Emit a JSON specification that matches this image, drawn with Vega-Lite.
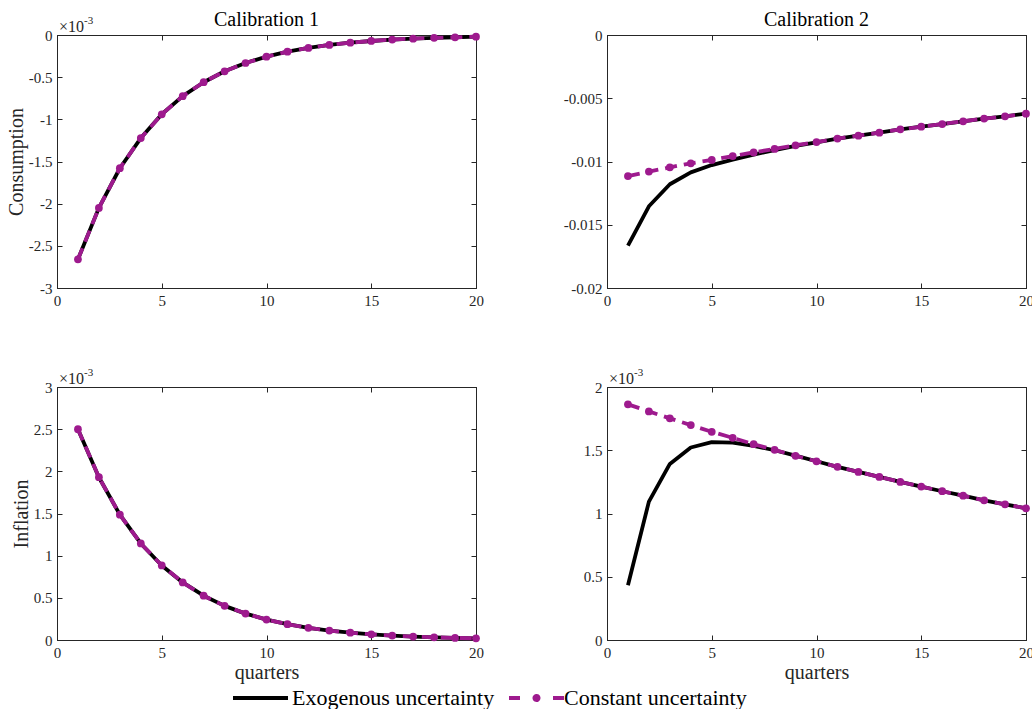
{
  "$schema": "https://vega.github.io/schema/vega-lite/v6.json",
  "background": "white",
  "padding": {"left": 5, "top": 9, "right": 0, "bottom": 0},
  "datasets": {
    "cons1": [
      {"q":1,"series":"Exogenous uncertainty","v":-0.00266},{"q":2,"series":"Exogenous uncertainty","v":-0.00205},{"q":3,"series":"Exogenous uncertainty","v":-0.00158},{"q":4,"series":"Exogenous uncertainty","v":-0.001222},{"q":5,"series":"Exogenous uncertainty","v":-0.00094},{"q":6,"series":"Exogenous uncertainty","v":-0.000725},{"q":7,"series":"Exogenous uncertainty","v":-0.00056},{"q":8,"series":"Exogenous uncertainty","v":-0.00043},{"q":9,"series":"Exogenous uncertainty","v":-0.000332},{"q":10,"series":"Exogenous uncertainty","v":-0.000257},{"q":11,"series":"Exogenous uncertainty","v":-0.000198},{"q":12,"series":"Exogenous uncertainty","v":-0.000153},{"q":13,"series":"Exogenous uncertainty","v":-0.000118},{"q":14,"series":"Exogenous uncertainty","v":-0.000091},{"q":15,"series":"Exogenous uncertainty","v":-0.000071},{"q":16,"series":"Exogenous uncertainty","v":-0.000054},{"q":17,"series":"Exogenous uncertainty","v":-0.000043},{"q":18,"series":"Exogenous uncertainty","v":-0.000034},{"q":19,"series":"Exogenous uncertainty","v":-0.000027},{"q":20,"series":"Exogenous uncertainty","v":-0.00002},
      {"q":1,"series":"Constant uncertainty","v":-0.00266},{"q":2,"series":"Constant uncertainty","v":-0.00205},{"q":3,"series":"Constant uncertainty","v":-0.00158},{"q":4,"series":"Constant uncertainty","v":-0.001222},{"q":5,"series":"Constant uncertainty","v":-0.00094},{"q":6,"series":"Constant uncertainty","v":-0.000725},{"q":7,"series":"Constant uncertainty","v":-0.00056},{"q":8,"series":"Constant uncertainty","v":-0.00043},{"q":9,"series":"Constant uncertainty","v":-0.000332},{"q":10,"series":"Constant uncertainty","v":-0.000257},{"q":11,"series":"Constant uncertainty","v":-0.000198},{"q":12,"series":"Constant uncertainty","v":-0.000153},{"q":13,"series":"Constant uncertainty","v":-0.000118},{"q":14,"series":"Constant uncertainty","v":-0.000091},{"q":15,"series":"Constant uncertainty","v":-0.000071},{"q":16,"series":"Constant uncertainty","v":-0.000054},{"q":17,"series":"Constant uncertainty","v":-0.000043},{"q":18,"series":"Constant uncertainty","v":-0.000034},{"q":19,"series":"Constant uncertainty","v":-0.000027},{"q":20,"series":"Constant uncertainty","v":-0.00002}
    ],
    "cons2": [
      {"q":1,"series":"Exogenous uncertainty","v":-0.01665},{"q":2,"series":"Exogenous uncertainty","v":-0.01354},{"q":3,"series":"Exogenous uncertainty","v":-0.0118},{"q":4,"series":"Exogenous uncertainty","v":-0.01086},{"q":5,"series":"Exogenous uncertainty","v":-0.01028},{"q":6,"series":"Exogenous uncertainty","v":-0.00985},{"q":7,"series":"Exogenous uncertainty","v":-0.00945},{"q":8,"series":"Exogenous uncertainty","v":-0.0091},{"q":9,"series":"Exogenous uncertainty","v":-0.00876},{"q":10,"series":"Exogenous uncertainty","v":-0.00848},{"q":11,"series":"Exogenous uncertainty","v":-0.0082},{"q":12,"series":"Exogenous uncertainty","v":-0.00796},{"q":13,"series":"Exogenous uncertainty","v":-0.00772},{"q":14,"series":"Exogenous uncertainty","v":-0.00746},{"q":15,"series":"Exogenous uncertainty","v":-0.00725},{"q":16,"series":"Exogenous uncertainty","v":-0.00704},{"q":17,"series":"Exogenous uncertainty","v":-0.00682},{"q":18,"series":"Exogenous uncertainty","v":-0.00661},{"q":19,"series":"Exogenous uncertainty","v":-0.00643},{"q":20,"series":"Exogenous uncertainty","v":-0.00622},
      {"q":1,"series":"Constant uncertainty","v":-0.01115},{"q":2,"series":"Constant uncertainty","v":-0.0108},{"q":3,"series":"Constant uncertainty","v":-0.01046},{"q":4,"series":"Constant uncertainty","v":-0.01014},{"q":5,"series":"Constant uncertainty","v":-0.00988},{"q":6,"series":"Constant uncertainty","v":-0.00957},{"q":7,"series":"Constant uncertainty","v":-0.00928},{"q":8,"series":"Constant uncertainty","v":-0.00901},{"q":9,"series":"Constant uncertainty","v":-0.00872},{"q":10,"series":"Constant uncertainty","v":-0.00846},{"q":11,"series":"Constant uncertainty","v":-0.00819},{"q":12,"series":"Constant uncertainty","v":-0.00796},{"q":13,"series":"Constant uncertainty","v":-0.00772},{"q":14,"series":"Constant uncertainty","v":-0.00746},{"q":15,"series":"Constant uncertainty","v":-0.00725},{"q":16,"series":"Constant uncertainty","v":-0.00704},{"q":17,"series":"Constant uncertainty","v":-0.00682},{"q":18,"series":"Constant uncertainty","v":-0.00661},{"q":19,"series":"Constant uncertainty","v":-0.00643},{"q":20,"series":"Constant uncertainty","v":-0.00622}
    ],
    "inf1": [
      {"q":1,"series":"Exogenous uncertainty","v":0.0025},{"q":2,"series":"Exogenous uncertainty","v":0.00193},{"q":3,"series":"Exogenous uncertainty","v":0.001486},{"q":4,"series":"Exogenous uncertainty","v":0.001145},{"q":5,"series":"Exogenous uncertainty","v":0.000884},{"q":6,"series":"Exogenous uncertainty","v":0.000683},{"q":7,"series":"Exogenous uncertainty","v":0.000525},{"q":8,"series":"Exogenous uncertainty","v":0.000405},{"q":9,"series":"Exogenous uncertainty","v":0.000313},{"q":10,"series":"Exogenous uncertainty","v":0.000242},{"q":11,"series":"Exogenous uncertainty","v":0.000187},{"q":12,"series":"Exogenous uncertainty","v":0.000144},{"q":13,"series":"Exogenous uncertainty","v":0.000112},{"q":14,"series":"Exogenous uncertainty","v":0.000087},{"q":15,"series":"Exogenous uncertainty","v":0.000067},{"q":16,"series":"Exogenous uncertainty","v":0.000052},{"q":17,"series":"Exogenous uncertainty","v":0.000041},{"q":18,"series":"Exogenous uncertainty","v":0.000032},{"q":19,"series":"Exogenous uncertainty","v":0.000025},{"q":20,"series":"Exogenous uncertainty","v":0.00002},
      {"q":1,"series":"Constant uncertainty","v":0.0025},{"q":2,"series":"Constant uncertainty","v":0.00193},{"q":3,"series":"Constant uncertainty","v":0.001486},{"q":4,"series":"Constant uncertainty","v":0.001145},{"q":5,"series":"Constant uncertainty","v":0.000884},{"q":6,"series":"Constant uncertainty","v":0.000683},{"q":7,"series":"Constant uncertainty","v":0.000525},{"q":8,"series":"Constant uncertainty","v":0.000405},{"q":9,"series":"Constant uncertainty","v":0.000313},{"q":10,"series":"Constant uncertainty","v":0.000242},{"q":11,"series":"Constant uncertainty","v":0.000187},{"q":12,"series":"Constant uncertainty","v":0.000144},{"q":13,"series":"Constant uncertainty","v":0.000112},{"q":14,"series":"Constant uncertainty","v":0.000087},{"q":15,"series":"Constant uncertainty","v":0.000067},{"q":16,"series":"Constant uncertainty","v":0.000052},{"q":17,"series":"Constant uncertainty","v":0.000041},{"q":18,"series":"Constant uncertainty","v":0.000032},{"q":19,"series":"Constant uncertainty","v":0.000025},{"q":20,"series":"Constant uncertainty","v":0.00002}
    ],
    "inf2": [
      {"q":1,"series":"Exogenous uncertainty","v":0.000433},{"q":2,"series":"Exogenous uncertainty","v":0.001094},{"q":3,"series":"Exogenous uncertainty","v":0.001392},{"q":4,"series":"Exogenous uncertainty","v":0.001522},{"q":5,"series":"Exogenous uncertainty","v":0.001564},{"q":6,"series":"Exogenous uncertainty","v":0.001561},{"q":7,"series":"Exogenous uncertainty","v":0.001535},{"q":8,"series":"Exogenous uncertainty","v":0.0015},{"q":9,"series":"Exogenous uncertainty","v":0.001458},{"q":10,"series":"Exogenous uncertainty","v":0.001413},{"q":11,"series":"Exogenous uncertainty","v":0.001369},{"q":12,"series":"Exogenous uncertainty","v":0.001329},{"q":13,"series":"Exogenous uncertainty","v":0.001289},{"q":14,"series":"Exogenous uncertainty","v":0.00125},{"q":15,"series":"Exogenous uncertainty","v":0.001213},{"q":16,"series":"Exogenous uncertainty","v":0.001176},{"q":17,"series":"Exogenous uncertainty","v":0.001141},{"q":18,"series":"Exogenous uncertainty","v":0.001104},{"q":19,"series":"Exogenous uncertainty","v":0.001073},{"q":20,"series":"Exogenous uncertainty","v":0.001041},
      {"q":1,"series":"Constant uncertainty","v":0.001863},{"q":2,"series":"Constant uncertainty","v":0.001807},{"q":3,"series":"Constant uncertainty","v":0.001752},{"q":4,"series":"Constant uncertainty","v":0.001699},{"q":5,"series":"Constant uncertainty","v":0.001646},{"q":6,"series":"Constant uncertainty","v":0.001598},{"q":7,"series":"Constant uncertainty","v":0.001548},{"q":8,"series":"Constant uncertainty","v":0.001503},{"q":9,"series":"Constant uncertainty","v":0.001456},{"q":10,"series":"Constant uncertainty","v":0.001413},{"q":11,"series":"Constant uncertainty","v":0.001369},{"q":12,"series":"Constant uncertainty","v":0.001329},{"q":13,"series":"Constant uncertainty","v":0.001289},{"q":14,"series":"Constant uncertainty","v":0.00125},{"q":15,"series":"Constant uncertainty","v":0.001213},{"q":16,"series":"Constant uncertainty","v":0.001176},{"q":17,"series":"Constant uncertainty","v":0.001141},{"q":18,"series":"Constant uncertainty","v":0.001104},{"q":19,"series":"Constant uncertainty","v":0.001073},{"q":20,"series":"Constant uncertainty","v":0.001041}
    ],
    "exp": [{"t":"×10","s":"-3"}]
  },
  "columns": 2,
  "spacing": {"row": 99, "column": 131},
  "bounds": "flush",
  "concat": [
    {
      "width": 419, "height": 253,
      "title": {"text": "Calibration 1"},
      "data": {"name": "cons1"},
      "resolve": {"axis": {"x": "independent", "y": "independent"}},
      "layer": [
        {"mark": {"type": "line", "strokeWidth": 3.8, "strokeJoin": "round"},
         "transform": [{"filter": "datum.series === 'Exogenous uncertainty'"}],
         "encoding": {
           "x": {"field": "q", "type": "quantitative", "scale": {"domain": [0, 20], "nice": false, "zero": false}, "axis": {"values": [0,5,10,15,20], "title": null}},
           "y": {"field": "v", "type": "quantitative", "scale": {"domain": [-0.003, 0], "nice": false, "zero": false}, "axis": {"values": [-0.003,-0.0025,-0.002,-0.0015,-0.001,-0.0005,0], "title": "Consumption", "labelExpr": "replace(format(datum.value*1000, '~g'), '\u2212', '-')"}},
           "color": {"field": "series", "type": "nominal", "scale": {"domain": ["Exogenous uncertainty", "Constant uncertainty"], "range": ["#000000", "#9E1A8E"]},
             "legend": {"orient": "none", "legendX": 174, "legendY": 651, "encode": {"symbols": {"update": {"shape": {"signal": "datum.value === 'Constant uncertainty' ? 'M-0.6,0L0.5,0M3.8,0L4.9,0M2.35,0A0.2,0.2,0,1,1,1.95,0A0.2,0.2,0,1,1,2.35,0Z' : 'M-1,0L4.5,0'"}, "fill": {"signal": "datum.value === 'Constant uncertainty' ? '#9E1A8E' : 'transparent'"}, "strokeDash": {"value": [1, 0]}}}}}}
         }},
        {"mark": {"type": "line", "strokeWidth": 3.8, "strokeDash": [12, 7]},
         "transform": [{"filter": "datum.series === 'Constant uncertainty'"}],
         "encoding": {
           "x": {"field": "q", "type": "quantitative", "axis": {"orient": "top", "labels": false, "title": null, "values": [0,5,10,15,20]}},
           "y": {"field": "v", "type": "quantitative", "axis": {"orient": "right", "labels": false, "title": null, "values": [-0.003,-0.0025,-0.002,-0.0015,-0.001,-0.0005,0]}},
           "color": {"field": "series", "type": "nominal", "scale": {"domain": ["Exogenous uncertainty", "Constant uncertainty"], "range": ["#000000", "#9E1A8E"]},
             "legend": {"orient": "none", "legendX": 174, "legendY": 651, "encode": {"symbols": {"update": {"shape": {"signal": "datum.value === 'Constant uncertainty' ? 'M-0.6,0L0.5,0M3.8,0L4.9,0M2.35,0A0.2,0.2,0,1,1,1.95,0A0.2,0.2,0,1,1,2.35,0Z' : 'M-1,0L4.5,0'"}, "fill": {"signal": "datum.value === 'Constant uncertainty' ? '#9E1A8E' : 'transparent'"}, "strokeDash": {"value": [1, 0]}}}}}}
         }},
        {"mark": {"type": "circle", "size": 60, "opacity": 1, "color": "#9E1A8E"},
         "transform": [{"filter": "datum.series === 'Constant uncertainty'"}],
         "encoding": {
           "x": {"field": "q", "type": "quantitative", "axis": null},
           "y": {"field": "v", "type": "quantitative", "axis": null}
         }},
        {"data": {"name": "exp"},
         "mark": {"type": "text", "align": "left", "baseline": "alphabetic", "dx": 2, "dy": -3, "fontSize": 16, "font": "Liberation Serif", "color": "#262626"},
         "encoding": {"x": {"datum": 0, "type": "quantitative", "axis": null}, "y": {"datum": 0, "type": "quantitative", "axis": null}, "text": {"field": "t"}}},
        {"data": {"name": "exp"},
         "mark": {"type": "text", "align": "left", "baseline": "alphabetic", "dx": 27, "dy": -11, "fontSize": 11, "font": "Liberation Serif", "color": "#262626"},
         "encoding": {"x": {"datum": 0, "type": "quantitative", "axis": null}, "y": {"datum": 0, "type": "quantitative", "axis": null}, "text": {"field": "s"}}}
      ]
    },
    {
      "width": 419, "height": 253,
      "title": {"text": "Calibration 2"},
      "data": {"name": "cons2"},
      "resolve": {"axis": {"x": "independent", "y": "independent"}},
      "layer": [
        {"mark": {"type": "line", "strokeWidth": 3.8, "strokeJoin": "round"},
         "transform": [{"filter": "datum.series === 'Exogenous uncertainty'"}],
         "encoding": {
           "x": {"field": "q", "type": "quantitative", "scale": {"domain": [0, 20], "nice": false, "zero": false}, "axis": {"values": [0,5,10,15,20], "title": null}},
           "y": {"field": "v", "type": "quantitative", "scale": {"domain": [-0.02, 0], "nice": false, "zero": false}, "axis": {"values": [-0.02,-0.015,-0.01,-0.005,0], "title": null, "labelExpr": "replace(format(datum.value, '~g'), '\u2212', '-')"}},
           "color": {"field": "series", "type": "nominal", "scale": {"domain": ["Exogenous uncertainty", "Constant uncertainty"], "range": ["#000000", "#9E1A8E"]},
             "legend": {"orient": "none", "legendX": 174, "legendY": 651, "encode": {"symbols": {"update": {"shape": {"signal": "datum.value === 'Constant uncertainty' ? 'M-0.6,0L0.5,0M3.8,0L4.9,0M2.35,0A0.2,0.2,0,1,1,1.95,0A0.2,0.2,0,1,1,2.35,0Z' : 'M-1,0L4.5,0'"}, "fill": {"signal": "datum.value === 'Constant uncertainty' ? '#9E1A8E' : 'transparent'"}, "strokeDash": {"value": [1, 0]}}}}}}
         }},
        {"mark": {"type": "line", "strokeWidth": 3.8, "strokeDash": [12, 7]},
         "transform": [{"filter": "datum.series === 'Constant uncertainty'"}],
         "encoding": {
           "x": {"field": "q", "type": "quantitative", "axis": {"orient": "top", "labels": false, "title": null, "values": [0,5,10,15,20]}},
           "y": {"field": "v", "type": "quantitative", "axis": {"orient": "right", "labels": false, "title": null, "values": [-0.02,-0.015,-0.01,-0.005,0]}},
           "color": {"field": "series", "type": "nominal", "scale": {"domain": ["Exogenous uncertainty", "Constant uncertainty"], "range": ["#000000", "#9E1A8E"]},
             "legend": {"orient": "none", "legendX": 174, "legendY": 651, "encode": {"symbols": {"update": {"shape": {"signal": "datum.value === 'Constant uncertainty' ? 'M-0.6,0L0.5,0M3.8,0L4.9,0M2.35,0A0.2,0.2,0,1,1,1.95,0A0.2,0.2,0,1,1,2.35,0Z' : 'M-1,0L4.5,0'"}, "fill": {"signal": "datum.value === 'Constant uncertainty' ? '#9E1A8E' : 'transparent'"}, "strokeDash": {"value": [1, 0]}}}}}}
         }},
        {"mark": {"type": "circle", "size": 60, "opacity": 1, "color": "#9E1A8E"},
         "transform": [{"filter": "datum.series === 'Constant uncertainty'"}],
         "encoding": {
           "x": {"field": "q", "type": "quantitative", "axis": null},
           "y": {"field": "v", "type": "quantitative", "axis": null}
         }},
        {"data": {"name": "exp"},
         "mark": {"type": "text", "align": "left", "baseline": "alphabetic", "dx": 27, "dy": -11, "fontSize": 11, "font": "Liberation Serif", "opacity": 0},
         "encoding": {"x": {"datum": 0, "type": "quantitative", "axis": null}, "y": {"datum": 0, "type": "quantitative", "axis": null}, "text": {"field": "s"}}}
      ]
    },
    {
      "width": 419, "height": 253,
      "data": {"name": "inf1"},
      "resolve": {"axis": {"x": "independent", "y": "independent"}},
      "layer": [
        {"mark": {"type": "line", "strokeWidth": 3.8, "strokeJoin": "round"},
         "transform": [{"filter": "datum.series === 'Exogenous uncertainty'"}],
         "encoding": {
           "x": {"field": "q", "type": "quantitative", "scale": {"domain": [0, 20], "nice": false, "zero": false}, "axis": {"values": [0,5,10,15,20], "title": "quarters"}},
           "y": {"field": "v", "type": "quantitative", "scale": {"domain": [0, 0.003], "nice": false, "zero": false}, "axis": {"values": [0,0.0005,0.001,0.0015,0.002,0.0025,0.003], "title": "Inflation", "labelExpr": "format(datum.value*1000, '~g')"}},
           "color": {"field": "series", "type": "nominal", "scale": {"domain": ["Exogenous uncertainty", "Constant uncertainty"], "range": ["#000000", "#9E1A8E"]},
             "legend": {"orient": "none", "legendX": 174, "legendY": 651, "encode": {"symbols": {"update": {"shape": {"signal": "datum.value === 'Constant uncertainty' ? 'M-0.6,0L0.5,0M3.8,0L4.9,0M2.35,0A0.2,0.2,0,1,1,1.95,0A0.2,0.2,0,1,1,2.35,0Z' : 'M-1,0L4.5,0'"}, "fill": {"signal": "datum.value === 'Constant uncertainty' ? '#9E1A8E' : 'transparent'"}, "strokeDash": {"value": [1, 0]}}}}}}
         }},
        {"mark": {"type": "line", "strokeWidth": 3.8, "strokeDash": [12, 7]},
         "transform": [{"filter": "datum.series === 'Constant uncertainty'"}],
         "encoding": {
           "x": {"field": "q", "type": "quantitative", "axis": {"orient": "top", "labels": false, "title": null, "values": [0,5,10,15,20]}},
           "y": {"field": "v", "type": "quantitative", "axis": {"orient": "right", "labels": false, "title": null, "values": [0,0.0005,0.001,0.0015,0.002,0.0025,0.003]}},
           "color": {"field": "series", "type": "nominal", "scale": {"domain": ["Exogenous uncertainty", "Constant uncertainty"], "range": ["#000000", "#9E1A8E"]},
             "legend": {"orient": "none", "legendX": 174, "legendY": 651, "encode": {"symbols": {"update": {"shape": {"signal": "datum.value === 'Constant uncertainty' ? 'M-0.6,0L0.5,0M3.8,0L4.9,0M2.35,0A0.2,0.2,0,1,1,1.95,0A0.2,0.2,0,1,1,2.35,0Z' : 'M-1,0L4.5,0'"}, "fill": {"signal": "datum.value === 'Constant uncertainty' ? '#9E1A8E' : 'transparent'"}, "strokeDash": {"value": [1, 0]}}}}}}
         }},
        {"mark": {"type": "circle", "size": 60, "opacity": 1, "color": "#9E1A8E"},
         "transform": [{"filter": "datum.series === 'Constant uncertainty'"}],
         "encoding": {
           "x": {"field": "q", "type": "quantitative", "axis": null},
           "y": {"field": "v", "type": "quantitative", "axis": null}
         }},
        {"data": {"name": "exp"},
         "mark": {"type": "text", "align": "left", "baseline": "alphabetic", "dx": 2, "dy": -3, "fontSize": 16, "font": "Liberation Serif", "color": "#262626"},
         "encoding": {"x": {"datum": 0, "type": "quantitative", "axis": null}, "y": {"datum": 0.003, "type": "quantitative", "axis": null}, "text": {"field": "t"}}},
        {"data": {"name": "exp"},
         "mark": {"type": "text", "align": "left", "baseline": "alphabetic", "dx": 27, "dy": -11, "fontSize": 11, "font": "Liberation Serif", "color": "#262626"},
         "encoding": {"x": {"datum": 0, "type": "quantitative", "axis": null}, "y": {"datum": 0.003, "type": "quantitative", "axis": null}, "text": {"field": "s"}}}
      ]
    },
    {
      "width": 419, "height": 253,
      "data": {"name": "inf2"},
      "resolve": {"axis": {"x": "independent", "y": "independent"}},
      "layer": [
        {"mark": {"type": "line", "strokeWidth": 3.8, "strokeJoin": "round"},
         "transform": [{"filter": "datum.series === 'Exogenous uncertainty'"}],
         "encoding": {
           "x": {"field": "q", "type": "quantitative", "scale": {"domain": [0, 20], "nice": false, "zero": false}, "axis": {"values": [0,5,10,15,20], "title": "quarters"}},
           "y": {"field": "v", "type": "quantitative", "scale": {"domain": [0, 0.002], "nice": false, "zero": false}, "axis": {"values": [0,0.0005,0.001,0.0015,0.002], "title": null, "labelExpr": "format(datum.value*1000, '~g')"}},
           "color": {"field": "series", "type": "nominal", "scale": {"domain": ["Exogenous uncertainty", "Constant uncertainty"], "range": ["#000000", "#9E1A8E"]},
             "legend": {"orient": "none", "legendX": 174, "legendY": 651, "encode": {"symbols": {"update": {"shape": {"signal": "datum.value === 'Constant uncertainty' ? 'M-0.6,0L0.5,0M3.8,0L4.9,0M2.35,0A0.2,0.2,0,1,1,1.95,0A0.2,0.2,0,1,1,2.35,0Z' : 'M-1,0L4.5,0'"}, "fill": {"signal": "datum.value === 'Constant uncertainty' ? '#9E1A8E' : 'transparent'"}, "strokeDash": {"value": [1, 0]}}}}}}
         }},
        {"mark": {"type": "line", "strokeWidth": 3.8, "strokeDash": [12, 7]},
         "transform": [{"filter": "datum.series === 'Constant uncertainty'"}],
         "encoding": {
           "x": {"field": "q", "type": "quantitative", "axis": {"orient": "top", "labels": false, "title": null, "values": [0,5,10,15,20]}},
           "y": {"field": "v", "type": "quantitative", "axis": {"orient": "right", "labels": false, "title": null, "values": [0,0.0005,0.001,0.0015,0.002]}},
           "color": {"field": "series", "type": "nominal", "scale": {"domain": ["Exogenous uncertainty", "Constant uncertainty"], "range": ["#000000", "#9E1A8E"]},
             "legend": {"orient": "none", "legendX": 174, "legendY": 651, "encode": {"symbols": {"update": {"shape": {"signal": "datum.value === 'Constant uncertainty' ? 'M-0.6,0L0.5,0M3.8,0L4.9,0M2.35,0A0.2,0.2,0,1,1,1.95,0A0.2,0.2,0,1,1,2.35,0Z' : 'M-1,0L4.5,0'"}, "fill": {"signal": "datum.value === 'Constant uncertainty' ? '#9E1A8E' : 'transparent'"}, "strokeDash": {"value": [1, 0]}}}}}}
         }},
        {"mark": {"type": "circle", "size": 60, "opacity": 1, "color": "#9E1A8E"},
         "transform": [{"filter": "datum.series === 'Constant uncertainty'"}],
         "encoding": {
           "x": {"field": "q", "type": "quantitative", "axis": null},
           "y": {"field": "v", "type": "quantitative", "axis": null}
         }},
        {"data": {"name": "exp"},
         "mark": {"type": "text", "align": "left", "baseline": "alphabetic", "dx": 2, "dy": -3, "fontSize": 16, "font": "Liberation Serif", "color": "#262626"},
         "encoding": {"x": {"datum": 0, "type": "quantitative", "axis": null}, "y": {"datum": 0.002, "type": "quantitative", "axis": null}, "text": {"field": "t"}}},
        {"data": {"name": "exp"},
         "mark": {"type": "text", "align": "left", "baseline": "alphabetic", "dx": 27, "dy": -11, "fontSize": 11, "font": "Liberation Serif", "color": "#262626"},
         "encoding": {"x": {"datum": 0, "type": "quantitative", "axis": null}, "y": {"datum": 0.002, "type": "quantitative", "axis": null}, "text": {"field": "s"}}}
      ]
    }
  ],
  "config": {
    "font": "Liberation Serif",
    "view": {"stroke": "#262626", "strokeWidth": 1},
    "title": {"font": "Liberation Serif", "fontSize": 20, "fontWeight": "normal", "color": "#000000", "offset": -15},
    "axis": {"grid": false, "labelFont": "Liberation Serif", "labelFontSize": 15, "labelColor": "#262626", "titleFont": "Liberation Serif", "titleFontSize": 20, "titleFontWeight": "normal", "titleColor": "#262626", "tickColor": "#262626", "domainColor": "#262626", "tickSize": -5, "tickWidth": 1, "labelPadding": 10, "titlePadding": 2, "labelFlush": false, "labelOverlap": false},
    "legend": {"direction": "horizontal", "title": null, "labelFont": "Liberation Serif", "labelFontSize": 22, "labelColor": "#000000", "labelLimit": 400, "symbolSize": 400, "symbolStrokeWidth": 4, "labelOffset": 37, "columnPadding": 6, "padding": 0}
  }
}
